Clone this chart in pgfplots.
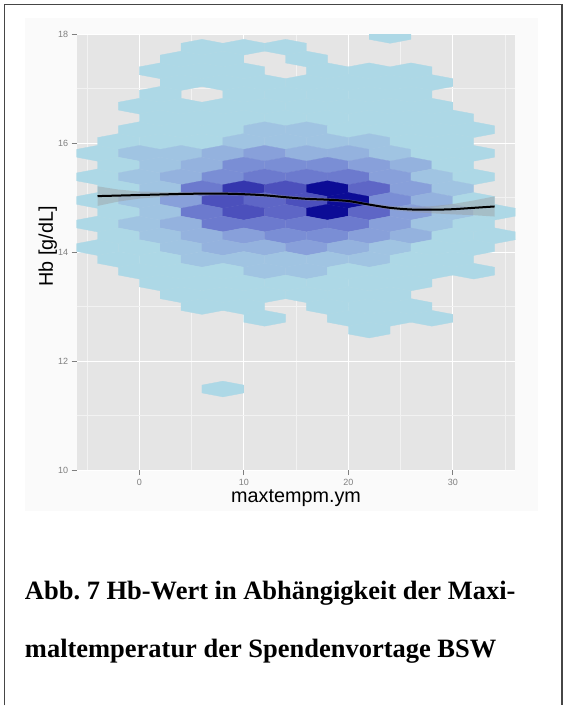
\documentclass[border=0pt]{standalone}
\usepackage{pgfplots}
\pgfplotsset{compat=1.18}
\usepackage{fontspec}
\setmainfont{Liberation Serif}
\setsansfont{Liberation Sans}
\definecolor{panelbg}{RGB}{229,229,229}
\definecolor{minorgrid}{RGB}{242,242,242}
\definecolor{tickgray}{RGB}{127,127,127}
\definecolor{framegray}{RGB}{70,70,70}
\definecolor{sefill}{RGB}{153,153,153}
\pgfdeclareplotmark{hexa}{%
  \pgfpathmoveto{\pgfpoint{-20.92pt}{-3.93pt}}%
  \pgfpathlineto{\pgfpoint{-20.92pt}{3.93pt}}%
  \pgfpathlineto{\pgfpoint{0pt}{7.87pt}}%
  \pgfpathlineto{\pgfpoint{20.92pt}{3.93pt}}%
  \pgfpathlineto{\pgfpoint{20.92pt}{-3.93pt}}%
  \pgfpathlineto{\pgfpoint{0pt}{-7.87pt}}%
  \pgfpathclose
  \pgfusepathqfillstroke
}
\pgfplotstableread{
x y c
24 17.979 1
6 17.763 1
10 17.763 1
14 17.763 1
4 17.546 1
8 17.546 1
16 17.546 1
2 17.330 1
6 17.330 1
10 17.330 1
18 17.330 1
22 17.330 1
26 17.330 1
4 17.114 1
8 17.114 1
12 17.114 1
16 17.114 1
20 17.114 1
24 17.114 1
28 17.114 1
2 16.898 1
10 16.898 1
14 16.898 1
18 16.898 1
22 16.898 1
26 16.898 1
0 16.681 1
4 16.681 1
8 16.681 1
12 16.681 1
16 16.681 1
20 16.681 1
24 16.681 1
28 16.681 1
2 16.465 1
6 16.465 1
10 16.465 1
14 16.465 1
18 16.465 1
22 16.465 1
26 16.465 1
30 16.465 1
0 16.249 1
4 16.249 1
8 16.249 1
12 16.249 2
16 16.249 2
20 16.249 1
24 16.249 1
28 16.249 1
32 16.249 1
-2 16.032 1
2 16.032 1
6 16.032 1
10 16.032 2
14 16.032 2
18 16.032 2
22 16.032 2
26 16.032 1
30 16.032 1
-4 15.816 1
0 15.816 2
4 15.816 2
8 15.816 3
12 15.816 4
16 15.816 3
20 15.816 3
24 15.816 2
28 15.816 1
32 15.816 1
-2 15.600 1
2 15.600 2
6 15.600 3
10 15.600 5
14 15.600 5
18 15.600 5
22 15.600 4
26 15.600 3
30 15.600 1
-4 15.383 1
0 15.383 2
4 15.383 3
8 15.383 5
12 15.383 6
16 15.383 6
20 15.383 6
24 15.383 4
28 15.383 2
32 15.383 1
-2 15.167 1
2 15.167 2
6 15.167 6
10 15.167 9
14 15.167 8
18 15.167 10
22 15.167 7
26 15.167 4
30 15.167 2
-4 14.951 1
0 14.951 2
4 14.951 4
8 14.951 8
12 14.951 7
16 14.951 8
20 14.951 10
24 14.951 5
28 14.951 3
32 14.951 1
-2 14.735 1
2 14.735 2
6 14.735 6
10 14.735 8
14 14.735 7
18 14.735 10
22 14.735 7
26 14.735 4
30 14.735 2
34 14.735 1
-4 14.518 1
0 14.518 2
4 14.518 3
8 14.518 6
12 14.518 6
16 14.518 6
20 14.518 6
24 14.518 4
28 14.518 2
32 14.518 1
-2 14.302 1
2 14.302 2
6 14.302 3
10 14.302 4
14 14.302 5
18 14.302 5
22 14.302 4
26 14.302 3
30 14.302 1
34 14.302 1
-4 14.086 1
0 14.086 1
4 14.086 2
8 14.086 3
12 14.086 3
16 14.086 4
20 14.086 3
24 14.086 2
28 14.086 1
32 14.086 1
-2 13.869 1
2 13.869 1
6 13.869 2
10 13.869 2
14 13.869 2
18 13.869 2
22 13.869 2
26 13.869 1
30 13.869 1
0 13.653 1
4 13.653 1
8 13.653 1
12 13.653 2
16 13.653 2
20 13.653 1
24 13.653 1
28 13.653 1
32 13.653 1
2 13.437 1
6 13.437 1
10 13.437 1
14 13.437 1
18 13.437 1
22 13.437 1
26 13.437 1
4 13.220 1
8 13.220 1
12 13.220 1
16 13.220 1
20 13.220 1
24 13.220 1
6 13.004 1
10 13.004 1
18 13.004 1
22 13.004 1
26 13.004 1
12 12.788 1
20 12.788 1
24 12.788 1
28 12.788 1
22 12.572 1
8 11.490 1
}\hexdata
\pgfplotstableread{
x y
-4 15.03
-2 15.04
0 15.05
2 15.06
4 15.07
6 15.075
8 15.075
10 15.065
12 15.045
14 15.01
16 14.98
18 14.965
20 14.94
22 14.875
24 14.815
26 14.785
28 14.78
30 14.79
32 14.815
34 14.84
}\fitline
\pgfplotstableread{
x y
-4 15.21
-2 15.15
0 15.115
2 15.105
4 15.105
6 15.105
8 15.105
10 15.095
12 15.075
14 15.04
16 15.01
18 14.995
20 14.97
22 14.905
24 14.85
26 14.83
28 14.845
30 14.885
32 14.95
34 15.025
34 14.655
32 14.68
30 14.695
28 14.715
26 14.74
24 14.78
22 14.845
20 14.91
18 14.935
16 14.95
14 14.98
12 15.015
10 15.035
8 15.045
6 15.045
4 15.035
2 15.015
0 14.985
-2 14.93
-4 14.85
}\seband
\begin{document}
\begin{tikzpicture}
\fill[white] (0pt,0pt) rectangle (566pt,-706pt);
\fill[black!2] (25.5pt,-18pt) rectangle (539pt,-511.7pt);
\draw[line width=1.5pt, framegray] (4.5pt,-706pt) -- (4.5pt,-4.5pt) -- (562.5pt,-4.5pt) -- (562.5pt,-706pt);
\begin{axis}[
  at={(76.7pt,-470.7pt)}, anchor=south west,
  scale only axis, width=439.3pt, height=436.4pt,
  xmin=-6, xmax=36, ymin=10, ymax=18,
  axis background/.style={fill=panelbg},
  axis line style={draw=none},
  xtick={0,10,20,30}, ytick={10,12,14,16,18},
  minor xtick={-5,5,15,25,35}, minor ytick={11,13,15,17},
  grid=both,
  major grid style={white, line width=1pt},
  minor grid style={minorgrid, line width=0.7pt},
  tick pos=left, tick align=outside,
  major tick length=5pt, minor tick length=0pt,
  major tick style={tickgray, line width=0.7pt},
  /pgf/number format/assume math mode=true,
  ticklabel style={font=\sffamily\fontsize{9}{10}\selectfont, text=tickgray},
  xlabel={maxtempm.ym}, ylabel={Hb [g/dL]},
  label style={font=\sffamily\fontsize{19.8}{21}\selectfont},
  xlabel style={at={(rel axis cs:0.5,0)}, anchor=base, yshift=-32pt},
  ylabel style={at={(rel axis cs:0,0.5)}, anchor=base, yshift=23.7pt, xshift=6pt},
  colormap={hexc}{rgb255=(173,216,230) rgb255=(160,196,226) rgb255=(148,178,222) rgb255=(136,160,218) rgb255=(122,142,213) rgb255=(108,122,206) rgb255=(94,102,198) rgb255=(76,80,188) rgb255=(52,54,174) rgb255=(12,12,150)},
  point meta min=1, point meta max=10,
  clip marker paths=true,
]
\addplot[scatter, only marks, mark=hexa, scatter src=explicit,
  scatter/use mapped color={draw=mapped color, fill=mapped color},
  mark options={line width=0.3pt}] table[x=x, y=y, meta=c] {\hexdata};
\addplot[fill=sefill, fill opacity=0.4, draw=none] table[x=x, y=y] {\seband} -- cycle;
\addplot[black, line width=2pt, smooth] table[x=x, y=y] {\fitline};
\end{axis}
\node[anchor=base west, font=\fontsize{26.5}{28}\selectfont\bfseries, inner sep=0pt] at (24.8pt,-600pt) {Abb.~7 Hb-Wert in Abhängigkeit der Maxi-};
\node[anchor=base west, font=\fontsize{26.5}{28}\selectfont\bfseries, inner sep=0pt] at (24.8pt,-658pt) {maltemperatur der Spendenvortage BSW};
\end{tikzpicture}
\end{document}
